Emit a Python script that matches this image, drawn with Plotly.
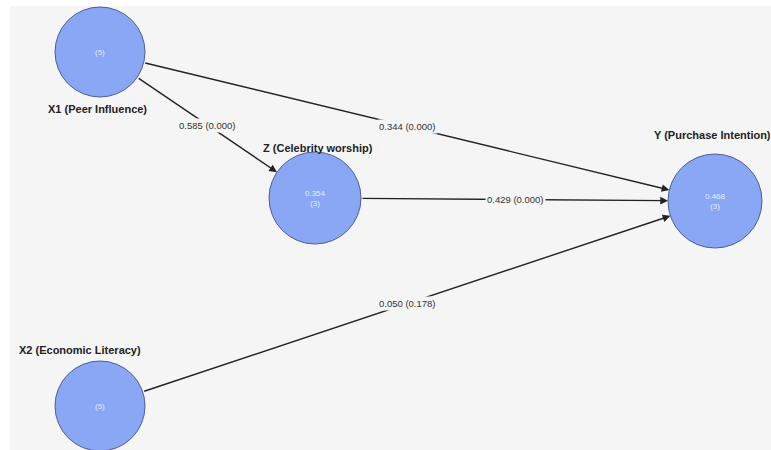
import plotly.graph_objects as go

# ---- data ----
node_ids = ["X1", "Z", "Y", "X2"]
node_names = ["X1 (Peer Influence)", "Z (Celebrity worship)", "Y (Purchase Intention)", "X2 (Economic Literacy)"]
node_r2 = ["", "0.354", "0.468", ""]
node_items = ["(5)", "(3)", "(3)", "(5)"]
edge_from = ["X1", "X1", "Z", "X2"]
edge_to = ["Z", "Y", "Y", "Y"]
edge_coef = [0.585, 0.344, 0.429, 0.050]
edge_p = [0.000, 0.000, 0.000, 0.178]

# ---- layout (pixel-like diagram coordinates) ----
pos = {"X1": (100, 52), "Z": (315, 198), "Y": (715, 201), "X2": (100, 406)}
radius = {"X1": 45, "Z": 46, "Y": 47, "X2": 45}
label_pos = {"X1": (97, 109), "Z": (318, 148), "Y": (712, 135), "X2": (80, 350)}

W, H = 771, 450
BG = "#f5f5f5"
NODE_FILL = "#8aa7f6"
NODE_LINE = "#4f5f8f"

fig = go.Figure()

# grey canvas
fig.add_shape(type="rect", x0=10, x1=W, y0=6, y1=H, line=dict(width=0),
              fillcolor=BG, layer="below")

# edges as arrows
for s, t, c, p in zip(edge_from, edge_to, edge_coef, edge_p):
    xs, ys = pos[s]
    xt, yt = pos[t]
    fig.add_annotation(x=xt, y=yt, ax=xs, ay=ys, xref="x", yref="y",
                       axref="x", ayref="y", text="", showarrow=True,
                       arrowhead=2, arrowsize=1.1, arrowwidth=1.4,
                       arrowcolor="#222222", standoff=radius[t],
                       startstandoff=radius[s])
    fig.add_annotation(x=(xs + xt) / 2, y=(ys + yt) / 2, xref="x", yref="y",
                       text=f"{c:.3f} ({p:.3f})", showarrow=False,
                       font=dict(family="Liberation Sans, Arial", size=9.5, color="#333333"),
                       bgcolor=BG, borderpad=1)

# nodes
fig.add_trace(go.Scatter(
    x=[pos[n][0] for n in node_ids], y=[pos[n][1] for n in node_ids],
    mode="markers",
    marker=dict(size=[2 * radius[n] for n in node_ids], color=NODE_FILL, opacity=1,
                line=dict(color=NODE_LINE, width=1)),
    hoverinfo="skip", showlegend=False))

for n, name, r2, it in zip(node_ids, node_names, node_r2, node_items):
    x, y = pos[n]
    inner = f"{r2}<br>{it}" if r2 else it
    fig.add_annotation(x=x, y=y, xref="x", yref="y", text=inner, showarrow=False,
                       font=dict(family="Liberation Sans, Arial", size=8,
                                 color="rgba(255,255,255,0.8)"))
    lx, ly = label_pos[n]
    fig.add_annotation(x=lx, y=ly, xref="x", yref="y", text=f"<b>{name}</b>",
                       showarrow=False,
                       font=dict(family="Liberation Sans, Arial", size=11, color="#222222"))

fig.update_layout(
    width=W, height=H, margin=dict(l=0, r=0, t=0, b=0),
    paper_bgcolor="white", plot_bgcolor="white",
    xaxis=dict(range=[0, W], visible=False, fixedrange=True),
    yaxis=dict(range=[H, 0], visible=False, fixedrange=True),
    showlegend=False,
)

fig.write_html("out.html", config={"displayModeBar": False},
               post_script="document.body.style.margin='0';document.body.style.overflow='hidden';")
